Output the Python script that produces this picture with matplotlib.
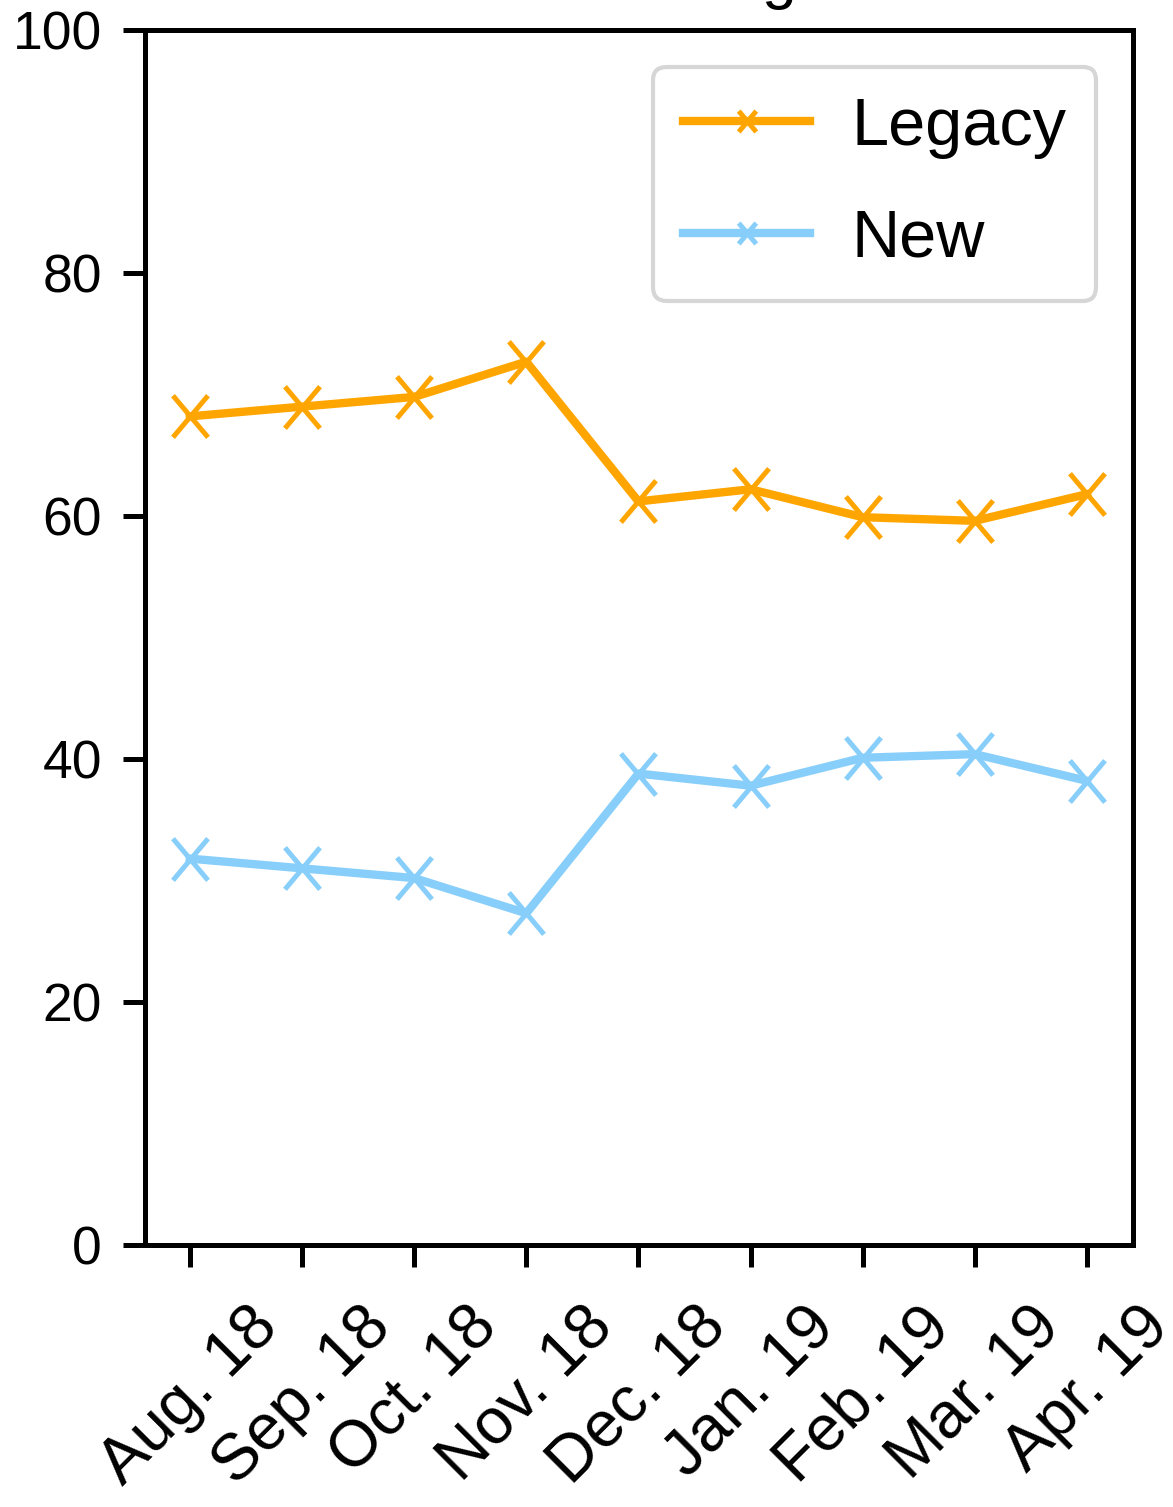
import matplotlib
matplotlib.use("Agg")
import matplotlib.pyplot as plt
from matplotlib import font_manager
from matplotlib.path import Path

# --- data -------------------------------------------------------------
months = ["Aug. 18", "Sep. 18", "Oct. 18", "Nov. 18", "Dec. 18",
          "Jan. 19", "Feb. 19", "Mar. 19", "Apr. 19"]
legacy = [68.2, 69.0, 69.8, 72.7, 61.2, 62.2, 59.9, 59.6, 61.8]
new = [31.8, 31.0, 30.2, 27.3, 38.8, 37.8, 40.1, 40.4, 38.2]
series_names = ["Legacy", "New"]
yticks = [0, 20, 40, 60, 80, 100]
title_text = "Code Change"

# --- fonts ------------------------------------------------------------
available = {f.name for f in font_manager.fontManager.ttflist}
family = "Liberation Sans Narrow" if "Liberation Sans Narrow" in available else "Liberation Sans"
plt.rcParams["font.family"] = [family, "DejaVu Sans"]
narrow = family.endswith("Narrow")
ytick_fs = 15 if narrow else 12.8
xtick_fs = 18 if narrow else 15.5
legend_fs = 18 if narrow else 16

# slightly narrow cross marker
sx = 0.84
cross = Path([(-sx, -1), (sx, 1), (-sx, 1), (sx, -1)],
             [Path.MOVETO, Path.LINETO, Path.MOVETO, Path.LINETO])

fig = plt.figure(figsize=(1173 / 300, 1507 / 300), dpi=300)
ax = fig.add_axes([0.12361, 0.17386, 0.84228, 0.80624])

x = list(range(len(months)))
ax.plot(x, legacy, color="#FFA500", lw=2.0, marker=cross, ms=10,
        mew=1.2, mfc="none", label=series_names[0])
ax.plot(x, new, color="#87CEFA", lw=2.0, marker=cross, ms=10,
        mew=1.2, mfc="none", label=series_names[1])

ax.set_xlim(-0.4, 8.41)
ax.set_ylim(0, 100)
ax.set_yticks(yticks)
ax.set_yticklabels([str(v) for v in yticks], fontsize=ytick_fs)
ax.set_xticks(x)
ax.set_xticklabels(months, rotation=45, ha="center", fontsize=xtick_fs)

for s in ax.spines.values():
    s.set_linewidth(1.2)
ax.tick_params(axis="both", length=5.3, width=1.2)
ax.tick_params(axis="y", pad=5)
ax.tick_params(axis="x", pad=7)

ax.set_title(title_text, fontsize=15, pad=8)

ax.legend(loc="upper right", fontsize=legend_fs, markerscale=0.5,
          handlelength=1.9, handletextpad=0.62, labelspacing=0.75,
          borderpad=0.45, borderaxespad=0.55, fancybox=True,
          edgecolor="0.8", framealpha=0.8)

fig.savefig("out.png", dpi=300)
